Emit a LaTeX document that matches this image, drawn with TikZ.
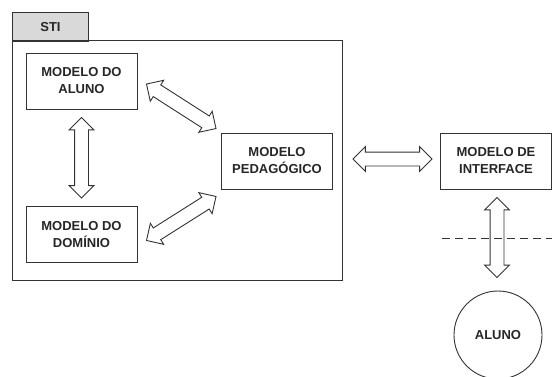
\documentclass[tikz,border=0pt]{standalone}
\usepackage{fontspec}
\setmainfont{Liberation Sans}
\usetikzlibrary{shapes.arrows,calc}
\definecolor{edge}{HTML}{333333}
\definecolor{tabfill}{HTML}{D9D9D9}
\tikzset{
  lbl/.style={font=\fontsize{13}{17}\selectfont\bfseries, text=black!85, align=center},
  box/.style={draw=edge, line width=0.9pt, fill=white, minimum width=111pt, minimum height=56pt, inner sep=0pt, lbl},
  fat/.style={double arrow, draw=edge, line width=0.9pt, inner xsep=0pt, inner ysep=6.5pt,
    double arrow head extend=5.5pt, double arrow tip angle=90},
}
\newcommand{\fatarrow}[3]{%
  \path let \p1=(#2), \p2=(#3), \n1={atan2(\y2-\y1,\x2-\x1)}, \n2={veclen(\x2-\x1,\y2-\y1)} in
    node[fat, minimum height=\n2, rotate=\n1] (#1) at ($(#2)!0.5!(#3)$) {};}
\begin{document}
\begin{tikzpicture}[x=1pt,y=-1pt]
\clip (0,0) rectangle (552,376);
\fill[white] (0,0) rectangle (552,376);
% STI package
\node[draw=edge, line width=0.9pt, fill=tabfill, anchor=north west, minimum width=76pt, minimum height=28.5pt, inner sep=0pt, lbl] (tab) at (12,12) {STI};
\draw[edge, line width=0.9pt] (12,40.5) rectangle (342,280);
% boxes
\node[box] (aluno) at (81.5,81) {MODELO DO\\ALUNO};
\node[box] (dominio) at (81.5,234.5) {MODELO DO\\DOMÍNIO};
\node[box] (ped) at (277,161) {MODELO\\PEDAGÓGICO};
\node[box] (int) at (496,161) {MODELO DE\\INTERFACE};
\node[draw=edge, line width=0.9pt, circle, minimum size=88pt, inner sep=0pt, lbl] (alunoc) at (498,335) {ALUNO};
% dashed boundary
\coordinate (dl) at (442,238);
\coordinate (dr) at (552,238);
\draw[edge, line width=0.9pt, dash pattern=on 8pt off 5pt] (dl) -- (dr);
% arrow end points
\coordinate (a1s) at ($(aluno.east)+(9,3)$);
\coordinate (a1e) at ($(ped.north west)+(-5,-4)$);
\coordinate (a2s) at ($(dominio.east)+(9,6)$);
\coordinate (a2e) at ($(ped.south west)+(-5,7)$);
\coordinate (a3s) at ($(aluno.south)+(0,8)$);
\coordinate (a3e) at ($(dominio.north)+(0,-8)$);
\coordinate (a4s) at ($(ped.east)+(20,-2)$);
\coordinate (a4e) at ($(int.west)+(-8,-2)$);
\coordinate (a5s) at ($(int.south)+(1,8)$);
\coordinate (a5e) at ($(alunoc.north)+(-1,-13)$);
\fatarrow{ar1}{a1s}{a1e}
\fatarrow{ar2}{a2s}{a2e}
\fatarrow{ar3}{a3s}{a3e}
\fatarrow{ar4}{a4s}{a4e}
\fatarrow{ar5}{a5s}{a5e}
\end{tikzpicture}
\end{document}
